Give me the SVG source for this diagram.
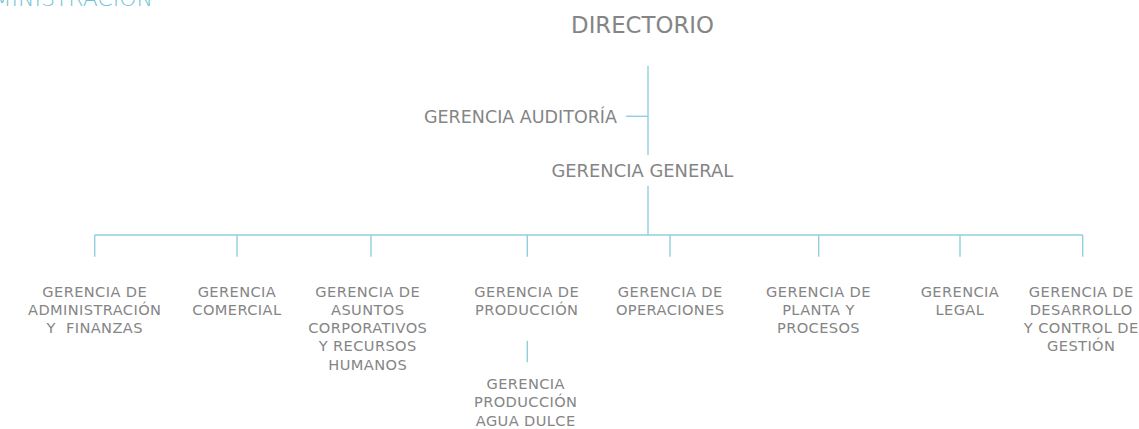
<svg xmlns="http://www.w3.org/2000/svg" width="1139" height="429" viewBox="0 0 1139 429">
<style>
text{font-family:"DejaVu Sans","Liberation Sans",sans-serif;fill:#858585;font-weight:400;text-anchor:middle}
.s{font-size:14.6px;letter-spacing:0.4px}
.hdr{fill:#6fc4d7;font-size:22px;font-weight:200;text-anchor:end}
.c line{stroke:#8fd0dd;stroke-width:1.4;fill:none}
</style>
<rect width="1139" height="429" fill="#ffffff"/>
<text class="hdr" x="153" y="6">ADMINISTRACIÓN</text>
<g class="c" id="connectors">
<line x1="648" y1="66" x2="648" y2="155"/>
<line x1="626" y1="116.3" x2="648" y2="116.3"/>
<line x1="648" y1="186" x2="648" y2="235"/>
<line x1="94.7" y1="235" x2="1082.7" y2="235"/>
<line x1="94.7" y1="235" x2="94.7" y2="256.7"/>
<line x1="237" y1="235" x2="237" y2="256.7"/>
<line x1="371" y1="235" x2="371" y2="256.7"/>
<line x1="527.3" y1="235" x2="527.3" y2="256.7"/>
<line x1="670" y1="235" x2="670" y2="256.7"/>
<line x1="818.7" y1="235" x2="818.7" y2="256.7"/>
<line x1="960" y1="235" x2="960" y2="256.7"/>
<line x1="1082.7" y1="235" x2="1082.7" y2="256.7"/>
<line x1="527.3" y1="340.7" x2="527.3" y2="362.3"/>
</g>
<g id="directorio"><text x="642.5" y="33.3" font-size="22.8">DIRECTORIO</text></g>
<g id="auditoria"><text x="617" y="123.3" font-size="17.5" style="text-anchor:end">GERENCIA AUDITORÍA</text></g>
<g id="general"><text x="642.3" y="176.7" font-size="17.9">GERENCIA GENERAL</text></g>
<g id="adm"><text class="s" x="94.7" y="296.5">GERENCIA DE</text><text class="s" x="94.7" y="314.8">ADMINISTRACIÓN</text><text class="s" x="94.7" y="333.1" xml:space="preserve">Y  FINANZAS</text></g>
<g id="comercial"><text class="s" x="236.9" y="296.5">GERENCIA</text><text class="s" x="236.9" y="314.8">COMERCIAL</text></g>
<g id="asuntos"><text class="s" x="367.7" y="296.5">GERENCIA DE</text><text class="s" x="367.7" y="314.8">ASUNTOS</text><text class="s" x="367.7" y="333.1">CORPORATIVOS</text><text class="s" x="367.7" y="351.4">Y RECURSOS</text><text class="s" x="367.7" y="369.5">HUMANOS</text></g>
<g id="produccion"><text class="s" x="526.7" y="296.5">GERENCIA DE</text><text class="s" x="526.7" y="314.8">PRODUCCIÓN</text></g>
<g id="agua"><text class="s" x="525.7" y="388.5">GERENCIA</text><text class="s" x="525.7" y="407">PRODUCCIÓN</text><text class="s" x="525.7" y="425.5">AGUA DULCE</text></g>
<g id="operaciones"><text class="s" x="670.2" y="296.5">GERENCIA DE</text><text class="s" x="670.2" y="314.8">OPERACIONES</text></g>
<g id="planta"><text class="s" x="818.5" y="296.5">GERENCIA DE</text><text class="s" x="818.5" y="314.8">PLANTA Y</text><text class="s" x="818.5" y="333.1">PROCESOS</text></g>
<g id="legal"><text class="s" x="959.9" y="296.5">GERENCIA</text><text class="s" x="959.9" y="314.8">LEGAL</text></g>
<g id="desarrollo"><text class="s" x="1081.2" y="296.5">GERENCIA DE</text><text class="s" x="1081.2" y="314.8">DESARROLLO</text><text class="s" x="1081.2" y="333.1">Y CONTROL DE</text><text class="s" x="1081.2" y="351.4">GESTIÓN</text></g>
</svg>
